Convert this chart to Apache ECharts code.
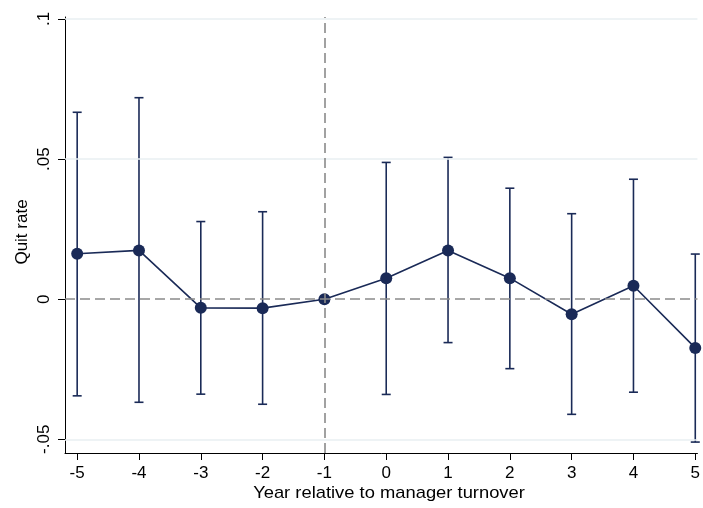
<!DOCTYPE html>
<html>
<head>
<meta charset="utf-8">
<script src="https://cdn.jsdelivr.net/npm/echarts@6/dist/echarts.min.js"></script>
<style>html,body{margin:0;padding:0;background:#fff}#c{width:703px;height:508px}</style>
</head>
<body>
<div id="c"></div>
<script>
const years = [-5, -4, -3, -2, -1, 0, 1, 2, 3, 4, 5];
const estimate = [0.0162, 0.0174, -0.0031, -0.0032, 0, 0.0075, 0.0174, 0.0075, -0.0054, 0.0048, -0.0174];
const upperCI = [0.0667, 0.0719, 0.0277, 0.0312, null, 0.0488, 0.0506, 0.0396, 0.0305, 0.0428, 0.0161];
const lowerCI = [-0.0345, -0.0368, -0.0339, -0.0375, null, -0.0340, -0.0155, -0.0248, -0.0411, -0.0332, -0.0510];
const yTicks = [-0.05, 0, 0.05, 0.1];
const yTickLabels = ['-.05', '0', '.05', '.1'];
const xTicks = [-5, -4, -3, -2, -1, 0, 1, 2, 3, 4, 5];
const gridValues = [-0.05, 0.05, 0.1];
const refX = -1;
const refY = 0;
const xTitle = 'Year relative to manager turnover';
const yTitle = 'Quit rate';

const NAVY = '#1a2a57';
const FONT = '"Liberation Sans", Arial, sans-serif';

const chart = echarts.init(document.getElementById('c'), null, {renderer: 'canvas'});

const ciData = years.map((y, i) => [y, lowerCI[i], upperCI[i]]).filter(d => d[1] !== null);

chart.setOption({
  animation: false,
  backgroundColor: '#fff',
  grid: {left: 65, right: 0, top: 17, bottom: 55, containLabel: false},
  xAxis: {
    type: 'value', min: -5.197, max: 5.035,
    axisLine: {show: true, onZero: false, lineStyle: {color: '#000', width: 1}},
    axisTick: {show: true, length: 7, lineStyle: {color: '#000'}, customValues: xTicks},
    axisLabel: {show: true, customValues: xTicks, color: '#000', fontSize: 17, fontFamily: FONT, margin: 12,
      alignMinLabel: 'center', alignMaxLabel: 'center', hideOverlap: false,
      formatter: v => String(v)},
    splitLine: {show: false}
  },
  yAxis: {
    type: 'value', min: -0.0549, max: 0.1007,
    axisLine: {show: true, onZero: false, lineStyle: {color: '#000', width: 1}},
    axisTick: {show: true, length: 7, lineStyle: {color: '#000'}, customValues: yTicks},
    axisLabel: {show: true, customValues: yTicks, rotate: 90, color: '#000', fontSize: 17, fontFamily: FONT, margin: 12,
      alignMinLabel: 'center', alignMaxLabel: 'center',
      formatter: v => { const i = yTicks.findIndex(t => Math.abs(t - v) < 1e-9); return i >= 0 ? yTickLabels[i] : ''; }},
    splitLine: {show: false}
  },
  graphic: [
    {type: 'text', x: 389, y: 494, scaleX: 1.17, style: {text: xTitle, fill: '#000', font: '15.7px ' + FONT, align: 'center', verticalAlign: 'middle'}},
    {type: 'text', rotation: Math.PI / 2, x: 22, y: 232, style: {text: yTitle, fill: '#000', font: '17px ' + FONT, align: 'center', verticalAlign: 'middle'}}
  ],
  series: [
    {
      type: 'line', data: [], silent: true, z: 1,
      markLine: {
        silent: true, symbol: 'none', animation: false, label: {show: false},
        lineStyle: {color: '#e8eff2', width: 1.5, type: 'solid'},
        data: gridValues.map(v => ({yAxis: v}))
      }
    },
    {
      type: 'line', data: [], silent: true, z: 2,
      markLine: {
        silent: true, symbol: 'none', animation: false, label: {show: false},
        lineStyle: {color: '#8a8a8a', width: 1.6, type: [10, 5]},
        data: [{yAxis: refY}, {xAxis: refX}]
      }
    },
    {
      type: 'custom', z: 3, silent: true,
      data: ciData,
      renderItem: function (params, api) {
        const x = api.value(0);
        const lo = api.coord([x, api.value(1)]);
        const hi = api.coord([x, api.value(2)]);
        const cap = 4.5;
        const style = {stroke: NAVY, lineWidth: 1.6};
        return {
          type: 'group',
          children: [
            {type: 'line', shape: {x1: lo[0], y1: lo[1], x2: hi[0], y2: hi[1]}, style: style},
            {type: 'line', shape: {x1: lo[0] - cap, y1: lo[1], x2: lo[0] + cap, y2: lo[1]}, style: style},
            {type: 'line', shape: {x1: hi[0] - cap, y1: hi[1], x2: hi[0] + cap, y2: hi[1]}, style: style}
          ]
        };
      }
    },
    {
      type: 'line', z: 4, silent: true,
      data: years.map((y, i) => [y, estimate[i]]),
      symbol: 'circle', symbolSize: 12, showAllSymbol: true,
      lineStyle: {color: NAVY, width: 1.6},
      itemStyle: {color: NAVY, borderWidth: 0}
    }
  ]
});
</script>
</body>
</html>
